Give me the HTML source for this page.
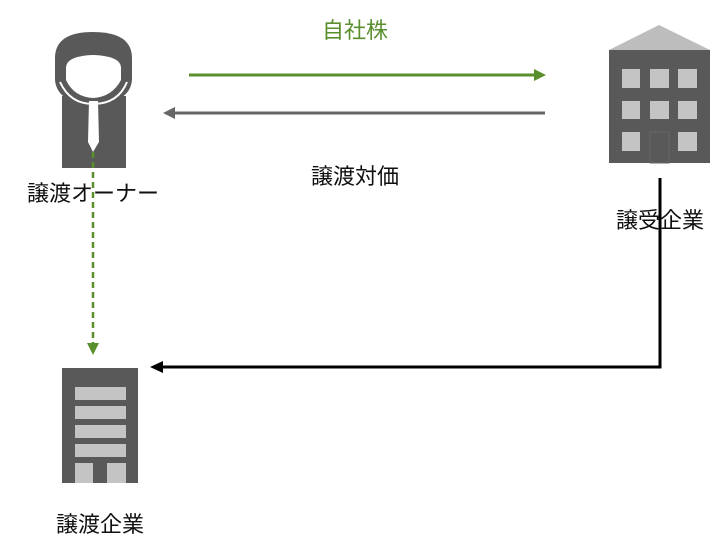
<!DOCTYPE html>
<html><head><meta charset="utf-8"><style>
html,body{margin:0;padding:0;background:#fff;}
body{width:717px;height:542px;overflow:hidden;position:relative;}
svg{position:absolute;left:0;top:0;}
text{font-family:"Liberation Sans","Noto Sans CJK JP",sans-serif;font-size:22px;fill:#111;}
</style></head><body>
<svg width="717" height="542" viewBox="0 0 717 542">
<!-- person -->
<rect x="62" y="96" width="64" height="72" fill="#595959"/>
<path d="M55,58 Q55,32 93,32 Q132,32 132,58 L132,80 Q130,103 93,105 Q57,103 55,80 Z" fill="#595959"/>
<path d="M66,68 Q66,56 93,55 Q121,56 121,68 L121,80 Q112,97 93,98 Q74,97 66,80 Z" fill="#fff"/>
<path d="M60,82 Q70,104 93,104 Q118,104 127,82" fill="none" stroke="#fff" stroke-width="2"/>
<path d="M89,101 L98,101 L99,142 L93,152 L88,142 Z" fill="#fff"/>
<!-- right building -->
<polygon points="659,25 710,50 609,50" fill="#bdbdbd"/>
<rect x="609" y="50" width="101" height="113" fill="#595959"/>
<g fill="#c4c4c4">
<rect x="622" y="69" width="18" height="19"/><rect x="650" y="69" width="19" height="19"/><rect x="678" y="69" width="19" height="19"/>
<rect x="622" y="101" width="18" height="18"/><rect x="650" y="101" width="19" height="18"/><rect x="678" y="101" width="19" height="18"/>
<rect x="622" y="132" width="18" height="19"/><rect x="678" y="132" width="19" height="19"/>
</g>
<rect x="650" y="132" width="19" height="31" fill="none" stroke="#666" stroke-width="1"/>
<!-- bottom building -->
<rect x="62" y="368" width="76" height="115" fill="#595959"/>
<g fill="#c4c4c4">
<rect x="75" y="387" width="51" height="13"/><rect x="75" y="406" width="51" height="13"/>
<rect x="75" y="425" width="51" height="13"/><rect x="75" y="444" width="51" height="13"/>
<rect x="75" y="463" width="18" height="20"/><rect x="107" y="463" width="19" height="20"/>
</g>
<!-- arrows -->
<line x1="189" y1="75" x2="536" y2="75" stroke="#5a8f2e" stroke-width="3"/>
<polygon points="546,75 534,69 534,81" fill="#5a8f2e"/>
<line x1="545" y1="113" x2="172" y2="113" stroke="#666" stroke-width="3"/>
<polygon points="163,113 175,107 175,119" fill="#666"/>
<line x1="93" y1="152" x2="93" y2="343" stroke="#5a8f2e" stroke-width="2.5" stroke-dasharray="6,4"/>
<polygon points="87,343 99,343 93,355" fill="#5a8f2e"/>
<polyline points="660,178 660,367 160,367" fill="none" stroke="#000" stroke-width="3"/>
<polygon points="150,367 163,361 163,373" fill="#000"/>
<!-- labels -->
<text x="355" y="38" text-anchor="middle" style="fill:#5a8f2e">自社株</text>
<text x="355" y="184" text-anchor="middle">譲渡対価</text>
<text x="93" y="201" text-anchor="middle">譲渡オーナー</text>
<text x="660" y="228" text-anchor="middle">譲受企業</text>
<text x="100" y="532" text-anchor="middle">譲渡企業</text>
</svg>
</body></html>
